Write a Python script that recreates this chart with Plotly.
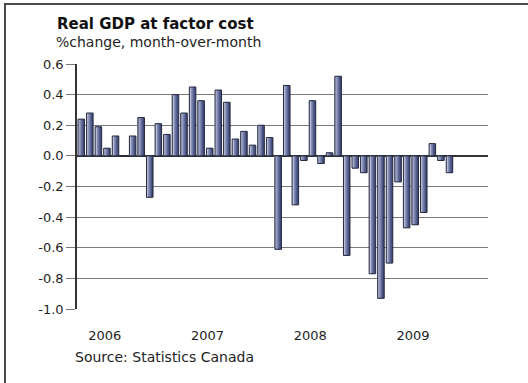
import plotly.graph_objects as go

# Monthly real GDP at factor cost, % change month-over-month (Oct 2005 - May 2009)
months = [f"{2005 + (9 + i) // 12}-{(9 + i) % 12 + 1:02d}" for i in range(48)]
values = [0.24, 0.28, 0.19, 0.05, 0.13, 0.00, 0.13, 0.25, -0.27, 0.21,
          0.14, 0.40, 0.28, 0.45, 0.36, 0.05, 0.43, 0.35, 0.11, 0.16,
          0.07, 0.20, 0.12, -0.61, 0.46, -0.32, -0.03, 0.36, -0.05, 0.02,
          0.52, -0.65, -0.08, -0.11, -0.77, -0.93, -0.70, -0.17, -0.47, -0.45,
          -0.37, 0.08, -0.03, -0.11]
years = ["2006", "2007", "2008", "2009"]
y_ticks = [0.6, 0.4, 0.2, 0.0, -0.2, -0.4, -0.6, -0.8, -1.0]
y_tick_labels = ["0.6", "0.4", "0.2", "0.0", "-0.2", "-0.4", "-0.6", "-0.8", "-1.0"]

W, H = 528, 383
L, R, T, B = 77, 40, 64, 74
PW, PH = W - L - R, H - T - B


def px_x(px):
    return (px - L) / PW


def px_y(py):
    return (H - B - py) / PH


x = list(range(len(values)))
year_pos = [months.index(f"{yr}-01") - 0.25 for yr in years]
quarter_ticks = [i - 0.5 for i in range(0, len(months) + 1, 4)]

BAR_W = 0.76
LEFT = -0.38
shades = ["#38416c", "#475180", "#5a6491", "#6f78a3", "#868eb5",
          "#9ea5c6", "#b6bcd6"]

fig = go.Figure()
# stacked slivers give each bar a light-to-dark horizontal shading
for k, c in enumerate(shades):
    fig.add_trace(go.Bar(
        x=x, y=values, width=BAR_W * (1 - k / len(shades)), offset=LEFT,
        marker=dict(color=c, line=dict(width=0)),
        hoverinfo="skip", showlegend=False))
# bar outlines
fig.add_trace(go.Bar(
    x=x, y=values, width=BAR_W, offset=LEFT,
    marker=dict(color="rgba(0,0,0,0)", line=dict(color="#262b40", width=1)),
    hoverinfo="skip", showlegend=False))

tick_font = dict(family="DejaVu Sans", size=13, color="#1e1e1e")

fig.update_layout(
    width=W, height=H,
    margin=dict(l=L, r=R, t=T, b=B),
    paper_bgcolor="white", plot_bgcolor="white",
    barmode="overlay", hovermode=False,
    xaxis=dict(range=[-0.5, len(months) - 0.5], tickmode="array",
               tickvals=year_pos, ticktext=years, ticks="outside",
               ticklen=14, tickcolor="rgba(0,0,0,0)", tickfont=tick_font,
               showgrid=False, zeroline=False, showline=False),
    xaxis2=dict(overlaying="x", anchor="free",
                position=1.0 / 1.6, range=[-0.5, len(months) - 0.5],
                tickmode="array", tickvals=quarter_ticks, ticks="outside",
                ticklen=7, tickcolor="#333333", tickwidth=1,
                showticklabels=False, showgrid=False, zeroline=False,
                showline=False),
    yaxis=dict(range=[-1.0, 0.6], tickmode="array", tickvals=y_ticks,
               ticktext=y_tick_labels, tickfont=tick_font,
               ticks="outside", ticklen=9, tickcolor="#7a7a7a",
               showgrid=True, gridcolor="#7a7a7a", gridwidth=1,
               zeroline=True, zerolinecolor="#333333", zerolinewidth=1.5,
               showline=True, linecolor="#333333", linewidth=1.5),
    shapes=[dict(type="rect", xref="paper", yref="paper",
                 x0=px_x(5), x1=px_x(560), y0=px_y(420), y1=px_y(4),
                 line=dict(color="#4a4a4a", width=2), layer="below")],
    annotations=[
        dict(text="<b>Real GDP at factor cost</b>", xref="paper", yref="paper",
             x=px_x(55), y=px_y(24), xanchor="left", yanchor="middle",
             showarrow=False,
             font=dict(family="DejaVu Sans", size=15, color="#111111")),
        dict(text="%change, month-over-month", xref="paper", yref="paper",
             x=px_x(54), y=px_y(42), xanchor="left", yanchor="middle",
             showarrow=False,
             font=dict(family="DejaVu Sans", size=14, color="#1e1e1e")),
        dict(text="Source: Statistics Canada", xref="paper", yref="paper",
             x=px_x(73), y=px_y(357), xanchor="left", yanchor="middle",
             showarrow=False,
             font=dict(family="DejaVu Sans", size=14, color="#1e1e1e")),
    ],
)

fig.write_html("out.html")
